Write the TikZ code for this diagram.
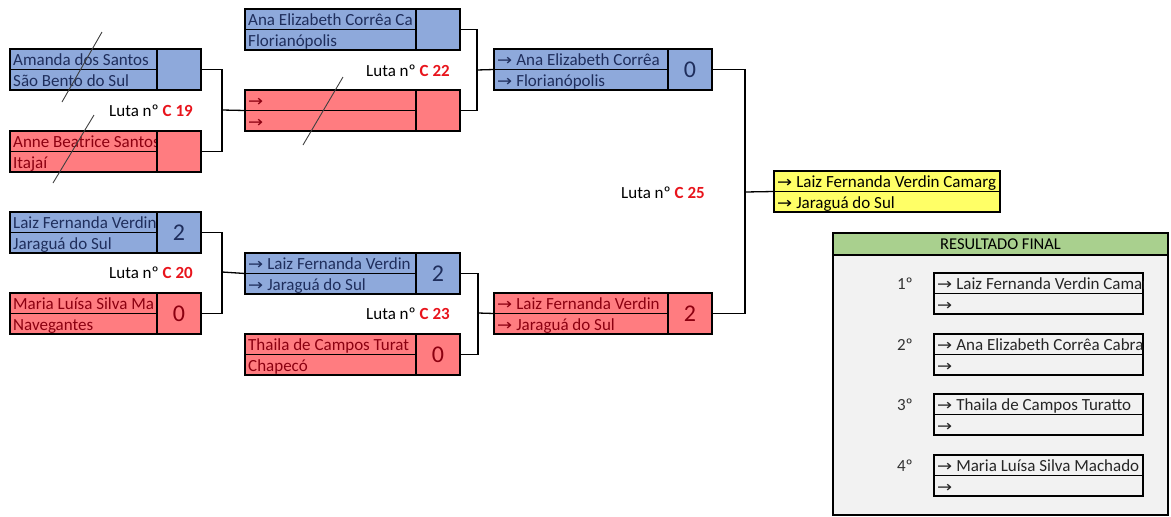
\documentclass[tikz,border=0pt]{standalone}
\usepackage{fontspec}
\setmainfont{Carlito}
\newfontfamily\arrowfont{DejaVu Sans}
\usepackage{graphicx}
\usepackage{xcolor}
\usetikzlibrary{calc,positioning}

\definecolor{azul}{HTML}{8EA9DB}
\definecolor{verm}{HTML}{FF7C80}
\definecolor{amar}{HTML}{FFFF66}
\definecolor{verde}{HTML}{A9D08E}
\definecolor{cinza}{HTML}{F2F2F2}
\definecolor{azulesc}{HTML}{1F2E5C}
\definecolor{vermesc}{HTML}{8B0010}
\definecolor{vermlut}{HTML}{E8141C}

\newcommand{\seta}{\scalebox{1.5}[1.3]{\arrowfont\fontsize{12}{12}\selectfont →}\hspace{4pt}}

% athlete cell: name, x, y, width, fill, text colour, line 1, line 2
\newcommand{\atleta}[8]{%
  \node[nome, minimum width=#4, fill=#5, anchor=north west] (#1) at (#2,#3) {};
  \draw[linha] (#1.west) -- (#1.east);
  \begin{scope}
    \clip (#1.north west) rectangle (#1.south east);
    \node[txt, text=#6] at ($(#1.north west)+(3,16)$) {#7};
    \node[txt, text=#6] at ($(#1.north west)+(3,37)$) {#8};
  \end{scope}
}

\begin{document}
\begin{tikzpicture}[x=1pt,y=-1pt,
    nome/.style={draw, line width=1.6pt, minimum height=41, inner sep=0, outer sep=0},
    placar/.style={draw, line width=1.6pt, minimum height=41, minimum width=44, inner sep=0, outer sep=0,
      font=\fontsize{24}{24}\selectfont},
    linha/.style={line width=1.2pt},
    txt/.style={anchor=base west, inner sep=0, font=\fontsize{17}{17}\selectfont},
    luta/.style={anchor=base east, inner sep=0, font=\fontsize{17}{17}\selectfont},
    liga/.style={line width=1.3pt},
    risco/.style={line width=0.9pt, black!75}]
		\useasboundingbox (0,0) rectangle (1171,517);
		% round 1
		\atleta{amanda}{10}{49}{147}{azul}{azulesc}{Amanda dos Santos}{São Bento do Sul}
		\node[placar, fill=azul, right=0pt of amanda] (amanda-p) {};
		\atleta{anne}{10}{131}{147}{verm}{vermesc}{Anne Beatrice Santos}{Itajaí}
		\node[placar, fill=verm, right=0pt of anne] (anne-p) {};
		\atleta{laiz}{10}{212}{147}{azul}{azulesc}{Laiz Fernanda Verdin}{Jaraguá do Sul}
		\node[placar, fill=azul, text=azulesc, right=0pt of laiz] (laiz-p) {2};
		\atleta{maria}{10}{293}{147}{verm}{vermesc}{Maria Luísa Silva Ma}{Navegantes}
		\node[placar, fill=verm, text=vermesc, right=0pt of maria] (maria-p) {0};
		% round 2
		\atleta{ana}{245}{9}{171}{azul}{azulesc}{Ana Elizabeth Corrêa Ca}{Florianópolis}
		\node[placar, fill=azul, right=0pt of ana] (ana-p) {};
		\atleta{vazio}{245}{90}{171}{verm}{vermesc}{\seta}{\seta}
		\node[placar, fill=verm, right=0pt of vazio] (vazio-p) {};
		\atleta{laizb}{245}{253}{171}{azul}{azulesc}{\seta Laiz Fernanda Verdin}{\seta Jaraguá do Sul}
		\node[placar, fill=azul, text=azulesc, right=0pt of laizb] (laizb-p) {2};
		\atleta{thaila}{245}{334}{171}{verm}{vermesc}{Thaila de Campos Turat}{Chapecó}
		\node[placar, fill=verm, text=vermesc, right=0pt of thaila] (thaila-p) {0};
		% round 3
		\atleta{anac}{494}{49}{174}{azul}{azulesc}{\seta Ana Elizabeth Corrêa}{\seta Florianópolis}
		\node[placar, fill=azul, text=azulesc, right=0pt of anac] (anac-p) {0};
		\atleta{laizc}{494}{293}{174}{verm}{vermesc}{\seta Laiz Fernanda Verdin}{\seta Jaraguá do Sul}
		\node[placar, fill=verm, text=vermesc, right=0pt of laizc] (laizc-p) {2};
		% final
		\atleta{final}{774}{171}{226}{amar}{black}{\seta Laiz Fernanda Verdin Camarg}{\seta Jaraguá do Sul}
		% brackets
		\coordinate (j19) at (222,110);
		\coordinate (j20) at (222,272);
		\coordinate (j22) at (477,70);
		\coordinate (j23) at (478,313);
		\coordinate (j25) at (745,192);
		\draw[liga] (amanda-p.east) -| (j19) |- (anne-p.east);
		\draw[liga] (j19) -- (vazio.west);
		\draw[liga] (laiz-p.east) -| (j20) |- (maria-p.east);
		\draw[liga] (j20) -- (laizb.west);
		\draw[liga] (ana-p.east) -| (j22) |- (vazio-p.east);
		\draw[liga] (j22) -- (anac.west);
		\draw[liga] (laizb-p.east) -| (j23) |- (thaila-p.east);
		\draw[liga] (j23) -- (laizc.west);
		\draw[liga] (anac-p.east) -| (j25) |- (laizc-p.east);
		\draw[liga] (j25) -- (final.west);
		% fight numbers
		\node[luta] (l19) at (193,116) {Luta nº \textcolor{vermlut}{\textbf{C 19}}};
		\node[luta] (l20) at (193,278) {Luta nº \textcolor{vermlut}{\textbf{C 20}}};
		\node[luta] (l22) at (450,76) {Luta nº \textcolor{vermlut}{\textbf{C 22}}};
		\node[luta] (l23) at (450,319) {Luta nº \textcolor{vermlut}{\textbf{C 23}}};
		\node[luta] (l25) at (705,198) {Luta nº \textcolor{vermlut}{\textbf{C 25}}};
		% strike-outs
		\draw[risco] (62,102) -- (102,32);
		\draw[risco] (53,183) -- (94,115);
		\draw[risco] (303,145) -- (343,77);
		% final result
		\node[draw, line width=1.3pt, fill=cinza, minimum width=335, minimum height=282, anchor=north west, inner sep=0, outer sep=0] (painel) at (833,233) {};
		\node[draw, line width=1.3pt, fill=verde, minimum width=335, minimum height=22, anchor=north west, inner sep=0, outer sep=0,
		  font=\fontsize{16.5}{16.5}\selectfont] (cabecalho) at (833,233) {RESULTADO FINAL};
		\foreach \pos/\atl/\yy in {1/Laiz Fernanda Verdin Camarg/273, 2/Ana Elizabeth Corrêa Cabra/334,
		    3/Thaila de Campos Turatto/394, 4/Maria Luísa Silva Machado/455} {
		  \atleta{pos\pos}{934}{\yy}{209}{cinza}{black!85}{\seta \atl}{\seta}
		  \node[luta, text=black!80, anchor=base east] (rot\pos) at (913,\yy+16) {\pos º};
		}
\end{tikzpicture}
\end{document}
